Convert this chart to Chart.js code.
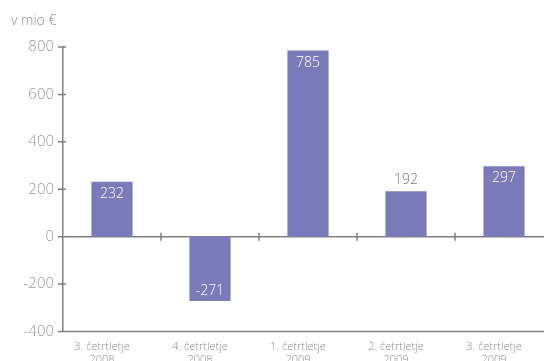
<!DOCTYPE html>
<html>
<head>
<meta charset="utf-8">
<script src="https://cdn.jsdelivr.net/npm/chart.js@4.4.1/dist/chart.umd.min.js"></script>
<style>
    html, body { margin: 0; padding: 0; background: #fff; overflow: hidden; }
    #wrap { position: relative; width: 560px; height: 361px; }
</style>
</head>
<body>
<div id="wrap"><canvas id="myChart"></canvas></div>
<script>
// quarters and net values (mio €)
const quarters = [
    ['3. četrtletje', '2008'],
    ['4. četrtletje', '2008'],
    ['1. četrtletje', '2009'],
    ['2. četrtletje', '2009'],
    ['3. četrtletje', '2009']
];
const values = [232, -271, 785, 192, 297];
const yTicks = [-400, -200, 0, 200, 400, 600, 800];
const unitLabel = 'v mio €';
// where each value label sits: inside the bar or above it
const labelPlace = ['in', 'in', 'in', 'out', 'in'];

const axisColor = '#808080';
const textColor = '#8c8c8c';
const barColor = '#7b7bb9';
const fontFamily = '"Open Sans", sans-serif';

// zero line, tick marks and value labels
const decorPlugin = {
    id: 'decor',
    beforeDatasetsDraw(chart) {
        const ctx = chart.ctx;
        const area = chart.chartArea;
        const x = chart.scales.x;
        const y = chart.scales.y;
        const y0 = y.getPixelForValue(0);
        ctx.save();
        ctx.strokeStyle = axisColor;
        ctx.lineWidth = 1.5;
        ctx.beginPath();
        ctx.moveTo(area.left, y0);
        ctx.lineTo(area.right, y0);
        // category boundaries on the zero line
        for (let i = 1; i < quarters.length; i++) {
            const bx = (x.getPixelForValue(i - 1) + x.getPixelForValue(i)) / 2;
            ctx.moveTo(bx, y0 - 4);
            ctx.lineTo(bx, y0 + 4);
        }
        // y ticks crossing the axis
        yTicks.forEach(v => {
            const py = y.getPixelForValue(v);
            ctx.moveTo(area.left - 5, py);
            ctx.lineTo(area.left + 3, py);
        });
        // bottom axis line at -400
        ctx.moveTo(area.left, area.bottom);
        ctx.lineTo(area.right, area.bottom);
        ctx.stroke();
        ctx.restore();
    },
    afterDatasetsDraw(chart) {
        const ctx = chart.ctx;
        const meta = chart.getDatasetMeta(0);
        ctx.save();
        ctx.font = '300 14px ' + fontFamily;
        ctx.textAlign = 'center';
        ctx.textBaseline = 'middle';
        meta.data.forEach((bar, i) => {
            const v = values[i];
            let ty;
            if (labelPlace[i] === 'out') {
                ctx.fillStyle = '#7a7a7a';
                ty = bar.y - 11;
            } else {
                ctx.fillStyle = '#ffffff';
                ty = v >= 0 ? bar.y + 12 : bar.y - 10;
            }
            ctx.fillText(String(v), bar.x, ty);
        });
        // unit caption
        ctx.fillStyle = textColor;
        ctx.textAlign = 'left';
        ctx.fillText(unitLabel, 11, 21);
        ctx.restore();
    }
};

function createChart() {
    const ctx = document.getElementById('myChart').getContext('2d');
    return new Chart(ctx, {
        type: 'bar',
        data: {
            labels: quarters,
            datasets: [{
                data: values,
                backgroundColor: barColor,
                borderWidth: 0,
                barPercentage: 0.42,
                categoryPercentage: 1
            }]
        },
        options: {
            responsive: true,
            maintainAspectRatio: false,
            animation: false,
            layout: { padding: { top: 47, right: 7, left: 0, bottom: 0 } },
            plugins: {
                legend: { display: false },
                tooltip: { enabled: false }
            },
            scales: {
                x: {
                    offset: true,
                    grid: { display: false, drawTicks: false },
                    border: { display: false },
                    ticks: {
                        color: textColor,
                        font: { family: fontFamily, size: 11, weight: 300 },
                        padding: 9,
                        labelOffset: -10,
                        maxRotation: 0,
                        autoSkip: false
                    },
                    afterFit: (scale) => { scale.height = 29.5; }
                },
                y: {
                    min: -400,
                    max: 800,
                    afterBuildTicks: (scale) => { scale.ticks = yTicks.map(v => ({ value: v })); },
                    grid: { display: false, drawTicks: false },
                    border: { display: true, color: axisColor, width: 1.5 },
                    ticks: {
                        color: '#9a9a9a',
                        font: { family: fontFamily, size: 15, weight: 300 },
                        padding: 9
                    },
                    afterFit: (scale) => { scale.width = 63; }
                }
            }
        },
        plugins: [decorPlugin]
    });
}

createChart();
</script>
</body>
</html>
